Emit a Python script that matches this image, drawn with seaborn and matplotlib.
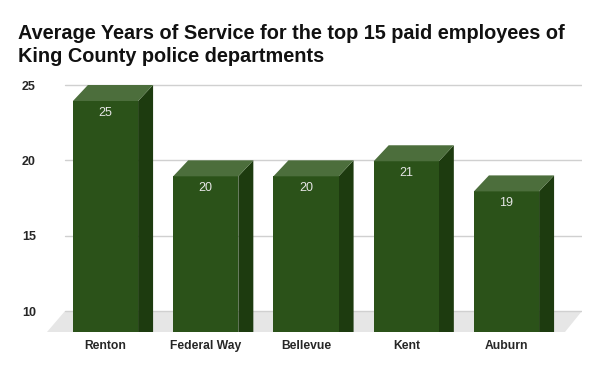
import numpy as np
import pandas as pd
import seaborn as sns
import matplotlib.pyplot as plt

# data
cities = ["Renton", "Federal Way", "Bellevue", "Kent", "Auburn"]
years = [25, 20, 20, 21, 19]
y_ticks = [10, 15, 20, 25]

sns.set_theme(style="white")
plt.rcParams['font.family'] = ['Liberation Sans', 'DejaVu Sans']

W, H = 600, 371
fig = plt.figure(figsize=(W / 100, H / 100), dpi=100)

# axes box in pixels (left, right, top, bottom)
L, R, T, B = 47, 582, 80, 332
ax = fig.add_axes([L / W, 1 - B / H, (R - L) / W, (B - T) / H])

# pixel -> data scale
x0_px, x_step = 105.5, 100.25          # front-face centre of first bar, spacing
y10_px, y_unit = 311, 226 / 15          # back wall: 10 at 311px, px per unit
xlim = ((L - x0_px) / x_step, (R - x0_px) / x_step)
ylim = (10 - (B - y10_px) / y_unit, 10 + (y10_px - T) / y_unit)

# 3D depth offsets (data units)
ddx = 15 / x_step
ddy = 16 / y_unit

front_c = "#2b5219"
side_c = "#1d3b0f"
top_c = "#4c6e3c"

df = pd.DataFrame({"city": cities, "years": years})
sns.barplot(data=df, x="city", y="years", color=front_c, saturation=1,
            width=0.65, ax=ax, zorder=3)

# floor
back_l = (65 - x0_px) / x_step
back_r = (R - x0_px) / x_step
front_l = (L - x0_px) / x_step
front_r = (565 - x0_px) / x_step
ax.fill([front_l, front_r, back_r, back_l], [ylim[0], ylim[0], 10, 10],
        color="#e6e6e6", lw=0, zorder=0)

# gridlines on back wall
for t in y_ticks:
    ax.plot([back_l, back_r], [t, t], color="#d0d0d0", lw=1, zorder=0.5)

for p, v in zip(ax.containers[0], years):
    x1 = p.get_x()
    x2 = x1 + p.get_width()
    p.set_y(p.get_y() - ddy)
    p.set_linewidth(0)
    top = v - ddy
    # side face
    ax.fill([x2, x2 + ddx, x2 + ddx, x2], [top, v, -5, -5],
            color=side_c, lw=0, zorder=2.9)
    # top face
    ax.fill([x1, x2, x2 + ddx, x1 + ddx], [top, top, v, v],
            color=top_c, lw=0, zorder=3.1)
    ax.text((x1 + x2) / 2, top - 0.8, str(v), ha="center", va="center",
            color="#e6e6e6", fontsize=9, zorder=4)

ax.set_xlim(*xlim)
ax.set_ylim(*ylim)
ax.set_yticks(y_ticks)
ax.set_yticklabels([str(t) for t in y_ticks], fontsize=9, fontweight="bold")
ax.tick_params(axis="y", length=0, pad=8)
ax.tick_params(axis="x", length=0, pad=6, labelsize=8.7)
for lab in ax.get_xticklabels():
    lab.set_fontweight("bold")
ax.set_xlabel("")
ax.set_ylabel("")
for s in ax.spines.values():
    s.set_visible(False)
ax.grid(False)

fig.text(18 / W, 1 - 24 / H,
         "Average Years of Service for the top 15 paid employees of\nKing County police departments",
         ha="left", va="top", fontsize=14.3, fontweight="bold", color="#111111",
         linespacing=1.25)

fig.savefig("out.png", dpi=100)
